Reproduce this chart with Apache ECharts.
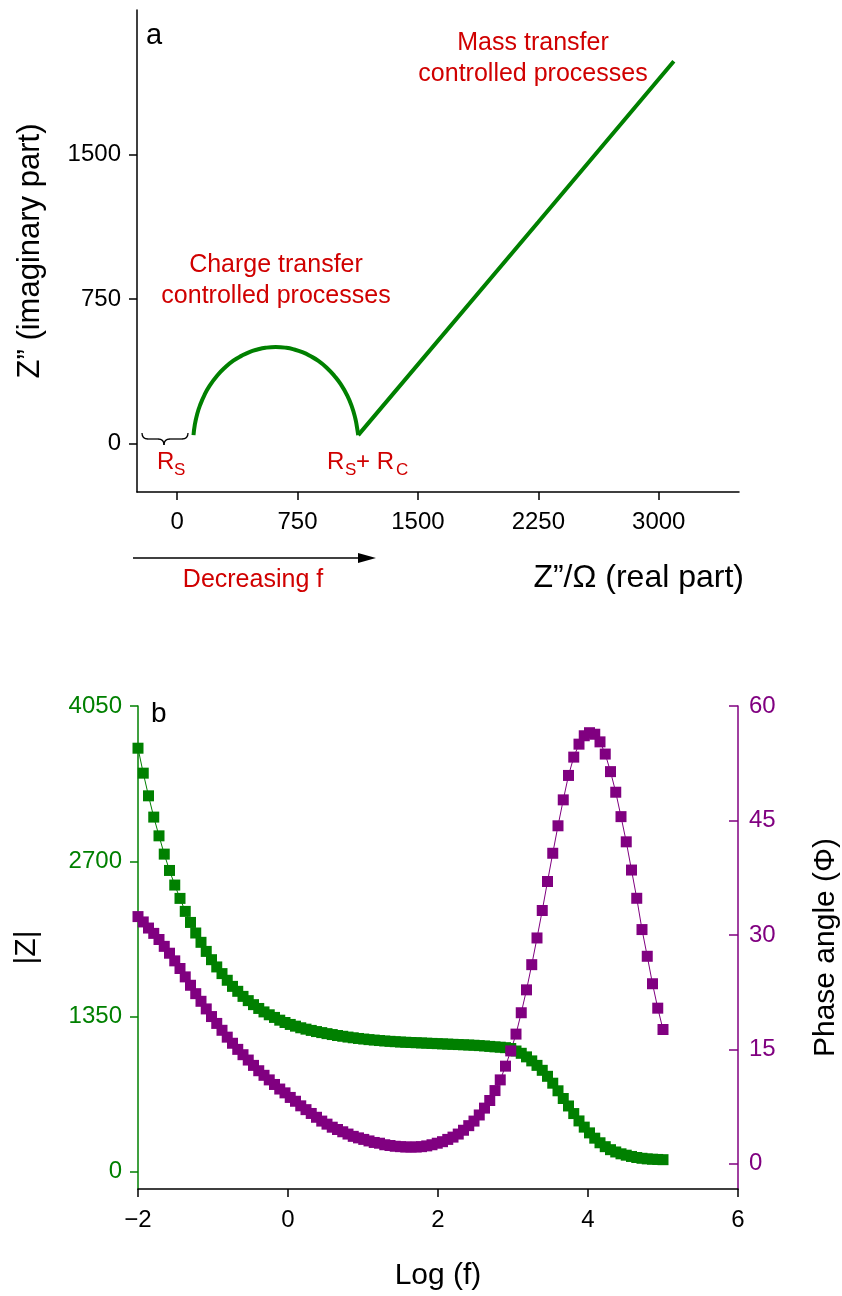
<!DOCTYPE html>
<html>
<head>
  <meta charset="utf-8">
  <title>Impedance</title>
  <script src="https://cdn.jsdelivr.net/npm/echarts@6/dist/echarts.min.js"></script>
  <style>
    html, body { margin: 0; padding: 0; background: #fff; }
  </style>
</head>
<body>
  <div id="container" style="width: 842px; height: 1296px"></div>
  <script>
    // panel a: Nyquist plot (real part vs imaginary part)
    var nyqArcRe = [102, 110, 125, 145, 170, 200, 250, 300, 350, 400, 450, 500, 550, 614, 680, 730, 780, 830, 880, 930, 980, 1020, 1060, 1090, 1110, 1120, 1128];
    var nyqArcIm = [45, 98, 155, 205, 253, 298, 354, 397, 431, 456, 476, 489, 498, 502, 498, 489, 475, 455, 430, 396, 352, 308, 250, 189, 131, 88, 45];
    var nyqLineRe = [1128, 2250, 3094];
    var nyqLineIm = [45, 1150, 1984];
    var nyqXTicks = [0, 750, 1500, 2250, 3000];
    var nyqYTicks = [0, 750, 1500];

    // panel b: Bode plot
    var logF = [
      -2, -1.93, -1.86, -1.79, -1.72, -1.65, -1.58, -1.51, -1.44, -1.37,
      -1.3, -1.23, -1.16, -1.09, -1.02, -0.95, -0.88, -0.81, -0.74, -0.67,
      -0.6, -0.53, -0.46, -0.39, -0.32, -0.25, -0.18, -0.11, -0.04, 0.03,
      0.1, 0.17, 0.24, 0.31, 0.38, 0.45, 0.52, 0.59, 0.66, 0.73,
      0.8, 0.87, 0.94, 1.01, 1.08, 1.15, 1.22, 1.29, 1.36, 1.43,
      1.5, 1.57, 1.64, 1.71, 1.78, 1.85, 1.92, 1.99, 2.06, 2.13,
      2.2, 2.27, 2.34, 2.41, 2.48, 2.55, 2.62, 2.69, 2.76, 2.83,
      2.9, 2.97, 3.04, 3.11, 3.18, 3.25, 3.32, 3.39, 3.46, 3.53,
      3.6, 3.67, 3.74, 3.81, 3.88, 3.95, 4.02, 4.09, 4.16, 4.23,
      4.3, 4.37, 4.44, 4.51, 4.58, 4.65, 4.72, 4.79, 4.86, 4.93,
      5
    ];
    var modZ = [
      3683, 3466, 3269, 3084, 2921, 2762, 2620, 2493, 2377, 2264,
      2168, 2076, 1995, 1916, 1844, 1781, 1723, 1665, 1612, 1569,
      1525, 1488, 1453, 1420, 1390, 1365, 1342, 1318, 1298, 1281,
      1266, 1252, 1240, 1229, 1219, 1210, 1201, 1193, 1185, 1178,
      1171, 1165, 1159, 1154, 1149, 1145, 1141, 1137, 1134, 1131,
      1128, 1126, 1124, 1122, 1120, 1118, 1116, 1114, 1112, 1110,
      1108, 1106, 1104, 1102, 1100, 1097, 1094, 1090, 1086, 1083,
      1079, 1072, 1050, 1030, 999, 964, 925, 882, 830, 770,
      704, 637, 572, 506, 442, 388, 338, 292, 252, 218,
      192, 172, 156, 144, 133, 124, 117, 112, 109, 107,
      105
    ];
    var phase = [
      32.4, 31.7, 30.9, 30.2, 29.4, 28.5, 27.6, 26.6, 25.6, 24.5,
      23.4, 22.3, 21.3, 20.3, 19.3, 18.4, 17.5, 16.6, 15.8, 15.0,
      14.3, 13.6, 12.9, 12.2, 11.6, 11.0, 10.4, 9.8, 9.3, 8.7,
      8.2, 7.6, 7.1, 6.6, 6.1, 5.6, 5.2, 4.8, 4.5, 4.2,
      3.9, 3.6, 3.4, 3.2, 3.0, 2.8, 2.7, 2.5, 2.4, 2.3,
      2.25, 2.2, 2.2, 2.2, 2.25, 2.35, 2.5, 2.7, 2.9, 3.2,
      3.5, 3.9, 4.4, 5.0, 5.6, 6.4, 7.3, 8.3, 9.6, 11.0,
      12.8, 14.8, 17.0, 19.8, 22.8, 26.1, 29.6, 33.2, 37.0, 40.7,
      44.3, 47.7, 50.9, 53.3, 55.0, 56.1, 56.5, 56.3, 55.3, 53.7,
      51.4, 48.7, 45.5, 42.2, 38.5, 34.8, 30.7, 27.2, 23.6, 20.4,
      17.6
    ];
    var modZTicks = [0, 1350, 2700, 4050];
    var phaseTicks = [0, 15, 30, 45, 60];

    var GREEN = '#008000';
    var PURPLE = '#800080';
    var RED = '#d00000';
    var FONT = "'Liberation Sans', Arial, sans-serif";

    function pairs(xs, ys) {
      return xs.map(function (x, i) { return [x, ys[i]]; });
    }

    // plain numbers, true minus sign, no thousands separator
    function plain(v) {
      return String(v).replace('-', '\u2212');
    }

    function txt(x, y, text, size, color, align) {
      return {
        type: 'text', x: x, y: y, silent: true,
        style: {
          text: text, fill: color || '#000', fontSize: size, fontFamily: FONT,
          align: align || 'left', verticalAlign: 'middle',
          textAlign: align || 'left', textVerticalAlign: 'middle', lineHeight: 31
        }
      };
    }

    function brace(x1, y1, x2, y2, cx, cy) {
      return {
        type: 'bezierCurve', silent: true,
        shape: { x1: x1, y1: y1, x2: x2, y2: y2, cpx1: cx, cpy1: cy },
        style: { stroke: '#000', lineWidth: 1.3, fill: null }
      };
    }

    var chart = echarts.init(document.getElementById('container'), null, { renderer: 'canvas' });

    var option = {
      animation: false,
      backgroundColor: '#fff',
      textStyle: { fontFamily: FONT },
      grid: [
        { left: 137, top: 10, width: 602, height: 482, outerBoundsMode: 'none', containLabel: false },
        { left: 138, top: 706, width: 600, height: 483, outerBoundsMode: 'none', containLabel: false }
      ],
      xAxis: [
        {
          gridIndex: 0, type: 'value', min: -250, max: 3500,
          axisLine: { onZero: false, lineStyle: { color: '#000', width: 1.5 } },
          axisTick: { customValues: nyqXTicks, length: 8, lineStyle: { color: '#000', width: 1.5 } },
          axisLabel: { customValues: nyqXTicks, fontSize: 24, color: '#000', margin: 18, formatter: plain },
          splitLine: { show: false }
        },
        {
          gridIndex: 1, type: 'value', min: -2, max: 6, interval: 2,
          name: 'Log (f)', nameLocation: 'middle', nameGap: 72,
          nameTextStyle: { fontSize: 30, color: '#000' },
          axisLine: { onZero: false, lineStyle: { color: '#000', width: 1.5 } },
          axisTick: { length: 8, lineStyle: { color: '#000', width: 1.5 } },
          axisLabel: { fontSize: 24, color: '#000', margin: 19, formatter: plain },
          splitLine: { show: false }
        }
      ],
      yAxis: [
        {
          gridIndex: 0, type: 'value', min: -250, max: 2250,
          name: 'Z\u201D (imaginary part)', nameLocation: 'middle', nameRotate: 90, nameGap: 91,
          nameTextStyle: { fontSize: 31, color: '#000' },
          axisLine: { onZero: false, lineStyle: { color: '#000', width: 1.5 } },
          axisTick: { customValues: nyqYTicks, length: 8, lineStyle: { color: '#000', width: 1.5 } },
          axisLabel: { customValues: nyqYTicks, fontSize: 24, color: '#000', margin: 16, formatter: plain },
          splitLine: { show: false }
        },
        {
          gridIndex: 1, type: 'value', position: 'left', min: -150, max: 4050,
          name: '|Z|', nameLocation: 'middle', nameRotate: 90, nameGap: 96,
          nameTextStyle: { fontSize: 30, color: '#000' },
          axisLine: { onZero: false, lineStyle: { color: GREEN, width: 1.5 } },
          axisTick: { customValues: modZTicks, length: 8, lineStyle: { color: GREEN, width: 1.5 } },
          axisLabel: { customValues: modZTicks, fontSize: 24, color: GREEN, margin: 16, formatter: plain },
          splitLine: { show: false }
        },
        {
          gridIndex: 1, type: 'value', position: 'right', min: -3.3, max: 60,
          name: 'Phase angle (\u03A6)', nameLocation: 'middle', nameRotate: 90, nameGap: 73,
          nameTextStyle: { fontSize: 30, color: '#000' },
          axisLine: { onZero: false, lineStyle: { color: PURPLE, width: 1.5 } },
          axisTick: { customValues: phaseTicks, inside: true, length: 9, lineStyle: { color: PURPLE, width: 1.5 } },
          axisLabel: { customValues: phaseTicks, fontSize: 24, color: PURPLE, margin: 11, formatter: plain },
          splitLine: { show: false }
        }
      ],
      series: [
        {
          type: 'line', xAxisIndex: 0, yAxisIndex: 0, data: pairs(nyqArcRe, nyqArcIm),
          showSymbol: false, smooth: true, lineStyle: { color: GREEN, width: 4 }
        },
        {
          type: 'line', xAxisIndex: 0, yAxisIndex: 0, data: pairs(nyqLineRe, nyqLineIm),
          showSymbol: false, lineStyle: { color: GREEN, width: 4 }
        },
        {
          type: 'line', xAxisIndex: 1, yAxisIndex: 1, data: pairs(logF, modZ),
          symbol: 'rect', symbolSize: 11, showAllSymbol: true,
          itemStyle: { color: GREEN }, lineStyle: { color: GREEN, width: 1 }
        },
        {
          type: 'line', xAxisIndex: 1, yAxisIndex: 2, data: pairs(logF, phase),
          symbol: 'rect', symbolSize: 11, showAllSymbol: true,
          itemStyle: { color: PURPLE }, lineStyle: { color: PURPLE, width: 1 }
        }
      ],
      graphic: [
        txt(146, 36, 'a', 29),
        txt(151, 714, 'b', 28),
        txt(276, 281, 'Charge transfer\ncontrolled processes', 25, RED, 'center'),
        txt(533, 59, 'Mass transfer\ncontrolled processes', 25, RED, 'center'),
        txt(157, 462, 'R', 24, RED),
        txt(174, 470, 'S', 17, RED),
        txt(327, 462, 'R', 24, RED),
        txt(345, 470, 'S', 17, RED),
        txt(356, 462, '+ R', 24, RED),
        txt(396, 470, 'C', 17, RED),
        txt(253, 580, 'Decreasing f', 25, RED, 'center'),
        txt(744, 578, 'Z\u201D/\u03A9 (real part)', 32, '#000', 'right'),
        brace(142, 433, 148, 439, 142, 439),
        { type: 'line', silent: true, shape: { x1: 148, y1: 439, x2: 158, y2: 439 }, style: { stroke: '#000', lineWidth: 1.3 } },
        brace(158, 439, 164, 445, 164, 439),
        brace(164, 445, 170, 439, 164, 439),
        { type: 'line', silent: true, shape: { x1: 170, y1: 439, x2: 182, y2: 439 }, style: { stroke: '#000', lineWidth: 1.3 } },
        brace(182, 439, 188, 433, 188, 439),
        { type: 'line', silent: true, shape: { x1: 133, y1: 558, x2: 362, y2: 558 }, style: { stroke: '#000', lineWidth: 1.5 } },
        { type: 'polygon', silent: true, shape: { points: [[376, 558], [358, 553], [358, 563]] }, style: { fill: '#000' } }
      ]
    };

    chart.setOption(option);
  </script>
</body>
</html>
